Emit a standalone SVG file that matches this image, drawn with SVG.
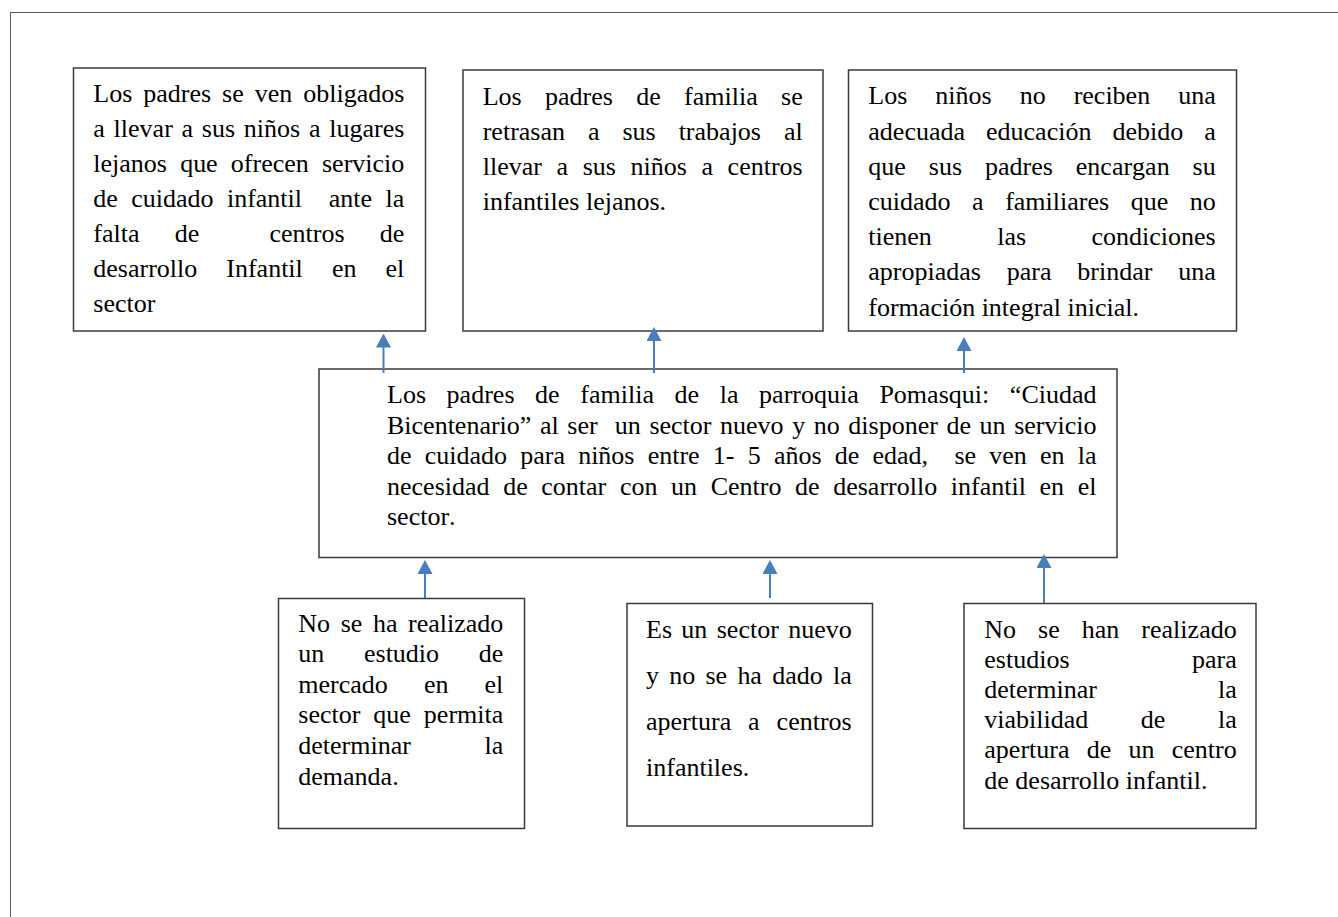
<svg xmlns="http://www.w3.org/2000/svg" width="1338" height="917" viewBox="0 0 1338 917">
<style>
.t{font-family:"Liberation Serif","Times New Roman",serif;font-size:26px;fill:#000;font-kerning:none}
.box{fill:#fff;stroke:#3a3a3a;stroke-width:1.5}
.frame{fill:none;stroke:#5a5a5a;stroke-width:1}
.conn line{stroke:#4a7ebb;stroke-width:2;marker-end:url(#ah)}
</style>
<defs>
<marker id="ah" viewBox="0 0 14 15" refX="4" refY="7.5" markerWidth="14" markerHeight="15" markerUnits="userSpaceOnUse" orient="auto">
<path d="M0,0 L14,7.5 L0,15 z" fill="#4a7ebb"/>
</marker>
</defs>
<rect class="frame" x="10.5" y="12.5" width="1400" height="1000"/>

<g id="efecto1">
<rect class="box" x="73.5" y="68" width="352" height="263"/>
<text class="t" x="93.3" y="102" style="word-spacing:4.45px" textLength="311" lengthAdjust="spacing">Los padres se ven obligados</text>
<text class="t" x="93.3" y="137" style="word-spacing:2.25px" textLength="311" lengthAdjust="spacing">a llevar a sus niños a lugares</text>
<text class="t" x="93.3" y="172" style="word-spacing:6.67px" textLength="311" lengthAdjust="spacing">lejanos que ofrecen servicio</text>
<text class="t" x="93.3" y="207" style="word-spacing:6.9px" textLength="311" lengthAdjust="spacing">de cuidado infantil &#160;ante la</text>
<text class="t" x="93.3" y="242" style="word-spacing:28.65px" textLength="311" lengthAdjust="spacing">falta de &#160;centros de</text>
<text class="t" x="93.3" y="277" style="word-spacing:22.6px" textLength="311" lengthAdjust="spacing">desarrollo Infantil en el</text>
<text class="t" x="93.3" y="312">sector</text>
</g>

<g id="efecto2">
<rect class="box" x="463" y="70" width="360" height="261"/>
<text class="t" x="482.7" y="104.5" style="word-spacing:16.8px" textLength="320" lengthAdjust="spacing">Los padres de familia se</text>
<text class="t" x="482.7" y="139.7" style="word-spacing:16.45px" textLength="320" lengthAdjust="spacing">retrasan a sus trabajos al</text>
<text class="t" x="482.7" y="174.9" style="word-spacing:8.1px" textLength="320" lengthAdjust="spacing">llevar a sus niños a centros</text>
<text class="t" x="482.7" y="210">infantiles lejanos.</text>
</g>

<g id="efecto3">
<rect class="box" x="848.5" y="70" width="388" height="261"/>
<text class="t" x="868.3" y="104.3" style="word-spacing:21.5px" textLength="347.4" lengthAdjust="spacing">Los niños no reciben una</text>
<text class="t" x="868.3" y="139.5" style="word-spacing:14.5px" textLength="347.4" lengthAdjust="spacing">adecuada educación debido a</text>
<text class="t" x="868.3" y="174.8" style="word-spacing:16.45px" textLength="347.4" lengthAdjust="spacing">que sus padres encargan su</text>
<text class="t" x="868.3" y="210" style="word-spacing:15px" textLength="347.4" lengthAdjust="spacing">cuidado a familiares que no</text>
<text class="t" x="868.3" y="245.2" style="word-spacing:58.9px" textLength="347.4" lengthAdjust="spacing">tienen las condiciones</text>
<text class="t" x="868.3" y="280.4" style="word-spacing:19.3px" textLength="347.4" lengthAdjust="spacing">apropiadas para brindar una</text>
<text class="t" x="868.3" y="315.7">formación integral inicial.</text>
</g>

<g id="problema">
<rect class="box" x="319" y="369" width="798" height="188.5"/>
<text class="t" x="387" y="403" style="word-spacing:14.1px" textLength="709.5" lengthAdjust="spacing">Los padres de familia de la parroquia Pomasqui: “Ciudad</text>
<text class="t" x="387" y="433.5" style="word-spacing:2.08px" textLength="709.5" lengthAdjust="spacing">Bicentenario” al ser &#160;un sector nuevo y no disponer de un servicio</text>
<text class="t" x="387" y="464" style="word-spacing:6.69px" textLength="709.5" lengthAdjust="spacing">de cuidado para niños entre 1- 5 años de edad, &#160;se ven en la</text>
<text class="t" x="387" y="494.5" style="word-spacing:7.1px" textLength="709.5" lengthAdjust="spacing">necesidad de contar con un Centro de desarrollo infantil en el</text>
<text class="t" x="387" y="525">sector.</text>
</g>

<g id="causa1">
<rect class="box" x="278.5" y="598.5" width="246" height="230"/>
<text class="t" x="298.3" y="631.7" style="word-spacing:4.07px" textLength="205" lengthAdjust="spacing">No se ha realizado</text>
<text class="t" x="298.3" y="662.3" style="word-spacing:33.2px" textLength="205" lengthAdjust="spacing">un estudio de</text>
<text class="t" x="298.3" y="692.7" style="word-spacing:29.6px" textLength="205" lengthAdjust="spacing">mercado en el</text>
<text class="t" x="298.3" y="723.3" style="word-spacing:6.46px" textLength="205" lengthAdjust="spacing">sector que permita</text>
<text class="t" x="298.3" y="754" style="word-spacing:67.1px" textLength="205" lengthAdjust="spacing">determinar la</text>
<text class="t" x="298.3" y="785">demanda.</text>
</g>

<g id="causa2">
<rect class="box" x="627" y="603.5" width="245.5" height="222.5"/>
<text class="t" x="646" y="638.3" style="word-spacing:2.86px" textLength="205.7" lengthAdjust="spacing">Es un sector nuevo</text>
<text class="t" x="646" y="684.3" style="word-spacing:3.74px" textLength="205.7" lengthAdjust="spacing">y no se ha dado la</text>
<text class="t" x="646" y="730" style="word-spacing:10.45px" textLength="205.7" lengthAdjust="spacing">apertura a centros</text>
<text class="t" x="646" y="776">infantiles.</text>
</g>

<g id="causa3">
<rect class="box" x="964" y="603.5" width="292" height="225"/>
<text class="t" x="984.3" y="638" style="word-spacing:15.5px" textLength="252.4" lengthAdjust="spacing">No se han realizado</text>
<text class="t" x="984.3" y="668.3" style="word-spacing:115.9px" textLength="252.4" lengthAdjust="spacing">estudios para</text>
<text class="t" x="984.3" y="698.3" style="word-spacing:114.5px" textLength="252.4" lengthAdjust="spacing">determinar la</text>
<text class="t" x="984.3" y="728.3" style="word-spacing:46px" textLength="252.4" lengthAdjust="spacing">viabilidad de la</text>
<text class="t" x="984.3" y="758.3" style="word-spacing:10.7px" textLength="252.4" lengthAdjust="spacing">apertura de un centro</text>
<text class="t" x="984.3" y="789">de desarrollo infantil.</text>
</g>

<g id="connectors" class="conn">
<line x1="383.5" y1="373" x2="383.5" y2="343.5"/>
<line x1="654" y1="373" x2="654" y2="337"/>
<line x1="964" y1="373" x2="964" y2="347"/>
<line x1="425" y1="598" x2="425" y2="570"/>
<line x1="770" y1="598" x2="770" y2="570"/>
<line x1="1044" y1="603" x2="1044" y2="564"/>
</g>
</svg>
